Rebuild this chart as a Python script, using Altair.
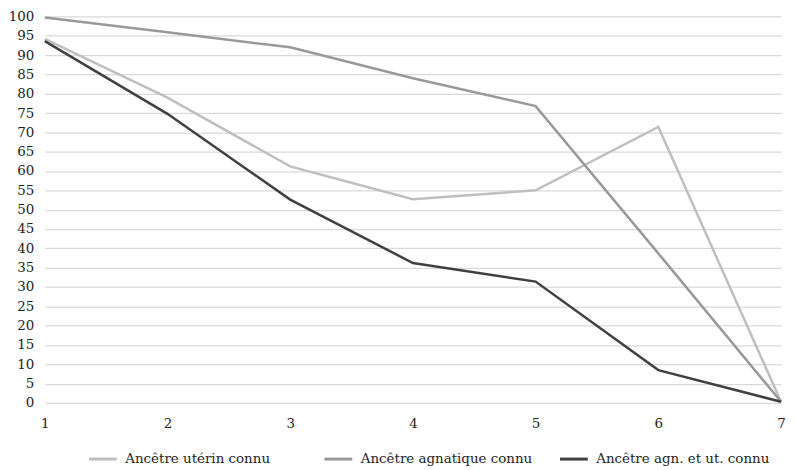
import altair as alt
import pandas as pd

x_vals = [1, 2, 3, 4, 5, 6, 7]
uterin = [94.2, 79.0, 61.2, 52.7, 55.0, 71.4, 0.3]
agnatique = [99.7, 95.9, 92.0, 84.0, 76.8, 38.7, 0.3]
agn_ut = [93.6, 74.8, 52.6, 36.2, 31.4, 8.5, 0.3]

series_names = ["Ancêtre utérin connu", "Ancêtre agnatique connu", "Ancêtre agn. et ut. connu"]
series_colors = ["#bfbfbf", "#999999", "#404040"]

rows = []
for name, vals in zip(series_names, [uterin, agnatique, agn_ut]):
    for x, v in zip(x_vals, vals):
        rows.append({"x": x, "value": v, "series": name})
df = pd.DataFrame(rows)

font = "DejaVu Serif"
fs = 13.5

chart = alt.Chart(df).mark_line(strokeWidth=2.5).encode(
    x=alt.X("x:Q",
            scale=alt.Scale(domain=[1, 7], nice=False, zero=False),
            axis=alt.Axis(values=x_vals, title=None, grid=False, domain=False,
                          ticks=False, labelPadding=14, format="d",
                          labelFlush=False, labelFont=font, labelFontSize=fs,
                          labelColor="#222")),
    y=alt.Y("value:Q",
            scale=alt.Scale(domain=[0, 100], nice=False),
            axis=alt.Axis(values=list(range(0, 101, 5)), title=None, domain=False,
                          ticks=False, labelPadding=11, labelFont=font,
                          labelFontSize=fs, labelColor="#222",
                          gridColor="#d9d9d9", gridWidth=1.2)),
    color=alt.Color("series:N",
                    scale=alt.Scale(domain=series_names, range=series_colors),
                    legend=alt.Legend(title=None, orient="none", direction="horizontal",
                                      legendX=43, legendY=430, columns=3,
                                      gridAlign="all", columnPadding=19,
                                      symbolType="stroke", symbolStrokeWidth=3,
                                      symbolSize=784, labelOffset=7, labelLimit=400,
                                      labelFont=font, labelFontSize=fs,
                                      labelColor="#222")),
    order=alt.Order("x:Q"),
).properties(
    width=741, height=389,
    padding={"left": 0, "top": 0, "right": 0, "bottom": 0},
).configure_view(stroke=None)

chart.save("out.html", embed_options={"renderer": "svg", "actions": False})
